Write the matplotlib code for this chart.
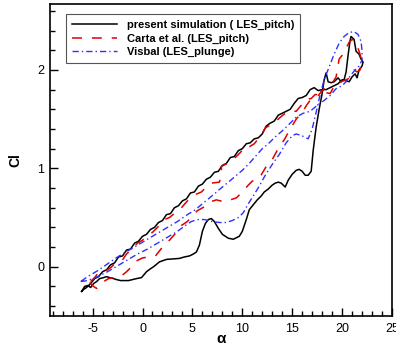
import matplotlib
matplotlib.use("Agg")
import matplotlib.pyplot as plt
from matplotlib.ticker import MultipleLocator

plt.rcParams['font.family'] = ['Liberation Sans', 'DejaVu Sans']
plt.rcParams['axes.unicode_minus'] = False

# present simulation (LES_pitch): upstroke branch then return branch
sim_up_alpha = [-6.1, -5.8, -5.5, -5.2, -4.9, -4.6, -4.3, -3.9, -3.6, -3.3,
                -2.9, -2.6, -2.2, -1.8, -1.4, -1.0, -0.6, -0.1, 0.4, 0.8,
                1.1, 1.7, 2.4, 3.0, 3.7, 4.2, 4.7, 5.1, 5.4, 5.7,
                6.0, 6.3, 6.6, 6.9, 7.2, 7.6, 8.0, 8.6, 9.1, 9.7,
                10.0, 10.4, 10.7, 11.1, 11.5, 11.9, 12.2, 12.6, 13.0, 13.3,
                13.6, 13.9, 14.1, 14.3, 14.6, 15.0, 15.4, 15.7, 16.0, 16.3,
                16.6, 16.9, 17.1, 17.4, 17.7, 18.0, 18.2, 18.4, 18.6, 18.9,
                19.2, 19.6, 19.9, 20.2, 20.4, 20.6, 20.8, 20.9, 21.2, 21.4,
                21.7, 21.9, 22.1]
sim_up_cl = [-0.25, -0.20, -0.19, -0.21, -0.17, -0.15, -0.12, -0.11, -0.10, -0.11,
             -0.12, -0.13, -0.14, -0.14, -0.14, -0.13, -0.12, -0.11, -0.05, -0.02,
             0.00, 0.05, 0.075, 0.08, 0.085, 0.10, 0.11, 0.13, 0.15, 0.22,
             0.36, 0.44, 0.48, 0.49, 0.46, 0.39, 0.33, 0.29, 0.28, 0.31,
             0.36, 0.48, 0.58, 0.63, 0.68, 0.72, 0.76, 0.79, 0.83, 0.85,
             0.86, 0.85, 0.83, 0.81, 0.88, 0.94, 0.98, 0.99, 0.97, 0.93,
             0.93, 0.97, 1.18, 1.42, 1.60, 1.76, 1.90, 1.97, 1.88, 1.87,
             1.88, 1.92, 1.88, 1.90, 1.98, 2.15, 2.30, 2.34, 2.31, 2.19,
             2.16, 2.11, 2.08]
sim_down_alpha = [22.0, 21.7, 21.5, 21.3, 21.0, 20.7, 20.4, 20.0, 19.6, 19.2,
                  18.8, 18.4, 18.0, 17.6, 17.2, 16.8, 16.4, 16.0, 15.6, 15.2,
                  14.8, 14.4, 14.0, 13.6, 13.2, 12.8, 12.4, 12.0, 11.6, 11.2,
                  10.8, 10.4, 10.0, 9.6, 9.2, 8.8, 8.4, 8.0, 7.6, 7.2,
                  6.8, 6.4, 6.0, 5.6, 5.2, 4.8, 4.4, 4.0, 3.6, 3.2,
                  2.8, 2.4, 2.0, 1.6, 1.2, 0.8, 0.4, 0.0, -0.4, -0.8,
                  -1.2, -1.6, -2.0, -2.4, -2.8, -3.2, -3.6, -4.0, -4.4, -4.8,
                  -5.2, -5.6, -5.9, -6.1]
sim_down_cl = [2.04, 2.00, 1.92, 1.96, 1.93, 1.88, 1.89, 1.90, 1.86, 1.84,
               1.82, 1.80, 1.80, 1.79, 1.82, 1.80, 1.74, 1.72, 1.71, 1.66,
               1.60, 1.58, 1.56, 1.54, 1.48, 1.46, 1.43, 1.35, 1.31, 1.30,
               1.26, 1.25, 1.20, 1.18, 1.12, 1.11, 1.05, 1.03, 0.97, 0.96,
               0.91, 0.89, 0.84, 0.82, 0.76, 0.75, 0.69, 0.67, 0.62, 0.60,
               0.54, 0.53, 0.47, 0.45, 0.40, 0.38, 0.33, 0.31, 0.26, 0.24,
               0.18, 0.17, 0.11, 0.10, 0.04, 0.02, -0.03, -0.05, -0.10, -0.12,
               -0.17, -0.21, -0.23, -0.25]

# Carta et al. (LES_pitch)
carta_up_alpha = [-5.3, -4.9, -4.6, -4.3, -3.9, -3.4, -2.8, -2.2, -1.6, -1.1,
                  -0.6, 0.0, 0.6, 1.3, 2.0, 2.7, 3.4, 3.9, 4.5, 5.0,
                  5.5, 6.2, 6.8, 7.4, 8.2, 8.8, 9.4, 10.0, 10.6, 11.0,
                  11.7, 12.4, 13.0, 13.7, 14.2, 14.8, 15.4, 16.0, 16.5, 17.0,
                  17.6, 18.1, 18.6, 19.1, 19.4, 19.7, 20.1, 20.7, 21.0, 21.4,
                  21.7, 22.0]
carta_up_cl = [-0.16, -0.20, -0.22, -0.20, -0.15, -0.12, -0.11, -0.10, -0.05, 0.00,
               0.06, 0.09, 0.10, 0.11, 0.20, 0.27, 0.35, 0.42, 0.46, 0.52,
               0.57, 0.61, 0.66, 0.68, 0.66, 0.68, 0.70, 0.76, 0.83, 0.87,
               0.90, 1.02, 1.09, 1.22, 1.29, 1.40, 1.50, 1.57, 1.65, 1.72,
               1.74, 1.80, 1.84, 1.88, 1.93, 2.11, 2.16, 2.28, 2.31, 2.28,
               2.19, 2.09]
carta_down_alpha = [21.8, 21.5, 21.2, 20.8, 20.4, 19.9, 19.4, 18.8, 18.4, 18.0,
                    17.3, 16.9, 16.4, 15.4, 14.8, 14.3, 13.7, 13.3, 12.3, 11.9,
                    11.2, 10.7, 10.4, 9.7, 9.0, 8.3, 7.9, 7.9, 7.7, 6.9,
                    6.3, 5.9, 5.2, 4.5, 3.9, 3.4, 2.7, 2.2, 1.7, 1.0,
                    0.5, 0.0, -0.5, -1.0, -1.6, -2.0, -2.7, -3.2, -3.8, -4.5,
                    -4.8, -5.1, -5.3]
carta_down_cl = [2.00, 1.98, 2.00, 1.92, 1.90, 1.88, 1.87, 1.76, 1.77, 1.75,
                 1.75, 1.71, 1.70, 1.58, 1.58, 1.56, 1.51, 1.47, 1.41, 1.34,
                 1.25, 1.22, 1.23, 1.15, 1.08, 1.04, 1.02, 0.92, 0.86, 0.85,
                 0.80, 0.76, 0.73, 0.67, 0.60, 0.56, 0.50, 0.48, 0.42, 0.35,
                 0.32, 0.27, 0.24, 0.19, 0.13, 0.07, 0.04, -0.01, -0.05, -0.07,
                 -0.11, -0.14, -0.16]

# Visbal (LES_plunge)
visbal_up_alpha = [-6.2, -5.5, -4.5, -3.5, -2.5, -1.5, -0.5, 0.5, 1.5, 2.5,
                   3.5, 4.3, 4.9, 5.5, 6.2, 7.0, 7.7, 8.4, 9.0, 9.6,
                   10.1, 10.6, 11.1, 11.7, 12.3, 13.0, 13.7, 14.4, 15.0, 15.4,
                   16.0, 16.6, 17.0, 17.4, 17.8, 18.2, 18.7, 19.2, 19.7, 20.2,
                   20.7, 21.2, 21.6, 21.9, 22.0, 22.0]
visbal_up_cl = [-0.15, -0.14, -0.10, -0.05, 0.01, 0.07, 0.13, 0.18, 0.24, 0.30,
                0.36, 0.42, 0.46, 0.48, 0.48, 0.46, 0.45, 0.45, 0.47, 0.50,
                0.55, 0.64, 0.72, 0.82, 0.93, 1.04, 1.14, 1.26, 1.33, 1.35,
                1.33, 1.30, 1.40, 1.57, 1.75, 1.90, 2.03, 2.16, 2.27, 2.34,
                2.38, 2.39, 2.36, 2.29, 2.19, 2.10]
visbal_down_alpha = [21.7, 21.3, 20.9, 20.4, 20.0, 19.4, 18.8, 18.2, 17.5, 16.8,
                     16.1, 15.4, 14.7, 14.0, 13.3, 12.6, 12.0, 11.3, 10.6, 10.0,
                     9.3, 8.6, 8.0, 7.3, 6.6, 6.0, 5.3, 4.5, 3.5, 2.5,
                     1.5, 0.5, -0.5, -1.5, -2.5, -3.5, -4.5, -5.5, -6.2]
visbal_down_cl = [2.04, 2.00, 1.95, 1.88, 1.84, 1.81, 1.74, 1.69, 1.64, 1.58,
                  1.56, 1.52, 1.45, 1.38, 1.32, 1.25, 1.20, 1.12, 1.04, 0.98,
                  0.92, 0.86, 0.81, 0.75, 0.69, 0.64, 0.58, 0.53, 0.46, 0.40,
                  0.34, 0.28, 0.22, 0.16, 0.10, 0.03, -0.04, -0.10, -0.15]

labels = ["present simulation ( LES_pitch)", "Carta et al. (LES_pitch)", "Visbal (LES_plunge)"]
xticks = [-5, 0, 5, 10, 15, 20, 25]
yticks = [0, 1, 2]

fig = plt.figure(figsize=(3.96, 3.48), dpi=100)
ax = fig.add_axes([50/396, 1 - 316/348, 342/396, 312/348])

ax.plot(sim_up_alpha + sim_down_alpha, sim_up_cl + sim_down_cl,
        color='black', lw=1.1, label=labels[0])
ax.plot(carta_up_alpha + carta_down_alpha, carta_up_cl + carta_down_cl,
        color='#e00000', lw=1.1, linestyle=(0, (6.5, 6.5)), label=labels[1])
ax.plot(visbal_up_alpha + visbal_down_alpha, visbal_up_cl + visbal_down_cl,
        color='#3030ff', lw=1.0, linestyle=(0, (4.5, 2.2, 1.0, 2.2)), label=labels[2])

ax.set_xlim(-9.27, 25)
ax.set_ylim(-0.50, 2.67)
ax.set_xticks(xticks)
ax.set_yticks(yticks)
ax.xaxis.set_minor_locator(MultipleLocator(1))
ax.yaxis.set_minor_locator(MultipleLocator(0.2))
ax.tick_params(which='both', direction='in', top=False, right=False, labelsize=9, width=1.0)
ax.tick_params(which='major', length=6)
ax.tick_params(which='minor', length=3.5)
ax.tick_params(axis='x', pad=5)
ax.tick_params(axis='y', pad=4)
for s in ax.spines.values():
    s.set_linewidth(1.2)

ax.set_xlabel('α', fontsize=11, fontweight='bold', labelpad=-2)
ax.set_ylabel('Cl', fontsize=10, fontweight='bold', labelpad=11)

leg = ax.legend(loc='upper left', bbox_to_anchor=(16/342, (316-14)/312), borderaxespad=0,
                prop={'weight': 'bold', 'size': 8}, handlelength=4.0, handletextpad=0.9,
                labelspacing=0.3, borderpad=0.55, fancybox=False, framealpha=1)
leg.get_frame().set_edgecolor('#555555')
leg.get_frame().set_linewidth(0.8)

fig.savefig('out.png', dpi=100)
